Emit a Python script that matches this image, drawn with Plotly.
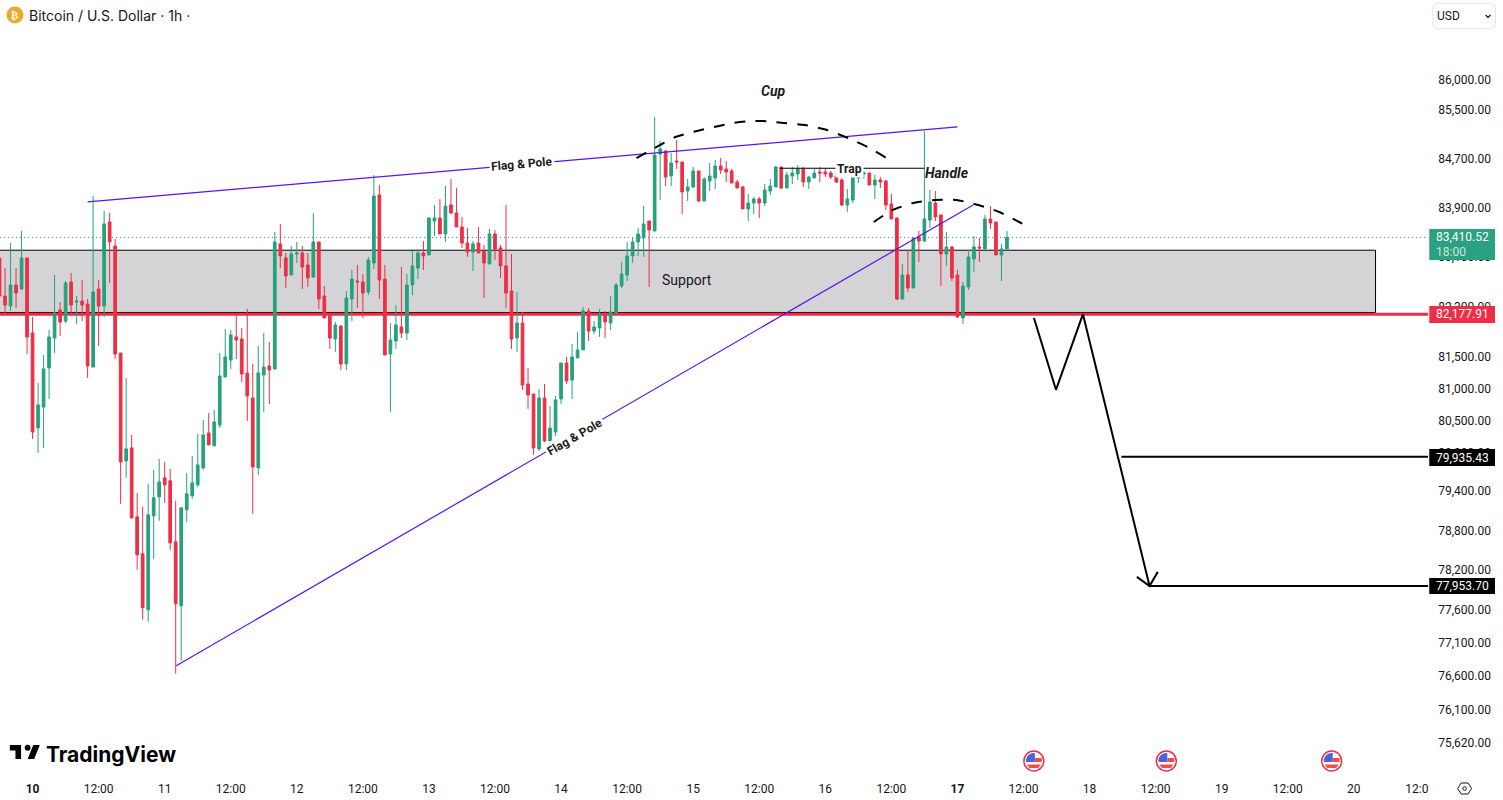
import pandas as pd
import numpy as np
import plotly.graph_objects as go

W, H = 1503, 800
START = pd.Timestamp("2025-03-10 00:00")

opens = [83080,82468,82308,82645,82581,83080,81878,80382,80710,81324,81799,82244,82069,82693,82372,82388,82340,81339,82581,82308,83662,83273,81561,79870,80071,79007,78442,77594,79022,79314,79607,79561,78624,77654,79115,79330,79499,79761,80304,80103,80429,81182,81450,81815,81783,81245,80851,79761,81213,81355,81308,83305,83080,82806,83144,83160,82967,82773,83338,82468,82181,81783,81990,81387,82420,82709,82693,82533,82999,84102,82741,81545,81751,81974,81878,82645,82918,83160,83128,83678,83727,83468,83939,83809,83581,83322,83176,83322,83192,82983,83468,83241,82951,82549,81799,82037,81071,80914,80056,80851,80180,80320,80836,81403,81134,81482,81609,82229,81910,81958,82165,82037,82197,82629,82806,83112,83338,83403,83678,83516,84774,84823,84413,84659,84642,84167,84233,84495,84004,84331,84380,84577,84527,84495,84314,84233,83874,83971,84036,83971,84167,84233,84560,84216,84413,84445,84527,84314,84380,84478,84478,84462,84413,84347,83939,84020,84380,84445,84462,84265,84347,84331,83955,83727,82420,82806,82597,83419,83354,83694,83971,83776,83144,83257,82806,82117,82613,83063,83257,83225,83711,83662,83128,83225]
highs = [83080,82918,83322,82918,83516,83080,82133,81087,81529,81926,82806,82372,82709,82838,82468,82725,82420,84086,82725,83841,83809,83386,81561,81166,80273,79376,79161,79515,79731,79901,79854,79746,79253,79145,79684,79947,80289,80507,80616,80663,81561,81942,81926,82165,81958,82260,81387,81672,81878,81735,83500,83630,83160,83273,83338,83273,83160,83809,83338,82629,82181,82053,82006,82549,82886,82967,82822,83096,84429,84265,82967,82037,82324,82934,82822,83192,83225,83354,83743,83939,84036,84249,84363,84216,83743,83565,83354,83581,83289,83549,83532,83289,83939,83144,82533,82213,81324,80914,80993,81071,80726,80883,81403,81498,81704,81894,82292,82276,82069,82260,82229,82468,82677,83015,83338,83419,83565,83922,83678,85386,84988,84840,84790,85005,84642,84363,84560,84495,84396,84626,84675,84708,84659,84527,84347,84249,84118,84069,84069,84282,84363,84577,84560,84478,84560,84593,84560,84413,84527,84560,84544,84495,84478,84380,84200,84429,84495,84495,84462,84429,84396,84347,84118,83743,82983,83209,83419,83516,85154,84184,84167,83776,83500,83273,82886,82693,83209,83435,83403,83776,83922,83662,83305,83516]
lows = [82468,82181,82229,82276,82565,81545,80211,79994,80071,80836,81561,81831,82037,82197,82022,82069,81166,81339,81672,82133,82677,81466,79206,79607,78976,78198,77443,77413,78365,78946,79222,78503,76637,76830,78930,79283,79468,79731,80118,80103,80382,81182,81308,81466,81102,80491,79053,79653,80632,80757,81292,82918,82597,82806,82999,82581,82613,82757,82260,82117,81625,81577,81292,81292,82069,82276,82117,82484,82902,82420,81529,80632,81625,81799,81767,82484,82741,82886,83128,83435,83468,83338,83792,83581,83241,83096,82870,83160,82436,82983,83047,82757,82276,81625,81577,80977,80679,79963,80025,80165,80165,80258,80757,81071,80836,81482,81609,81751,81862,81815,81799,81926,82197,82597,82709,82999,83112,83096,82613,83516,84020,84249,84249,84527,83792,84004,84216,83988,84004,84167,84200,84445,84314,84298,84216,83874,83678,83792,83727,83922,84102,84233,84200,84216,84282,84347,84233,84200,84380,84314,84396,84363,84298,83922,83825,83971,84298,84363,84265,84036,84216,83857,83711,82404,82420,82533,82597,83015,83338,83565,83678,82629,82951,82709,82117,82022,82565,82854,83015,83225,83549,83128,82709,83225]
closes = [82468,82324,82645,82516,83080,81815,80320,80742,81308,81815,82197,82053,82677,82324,82388,82324,81355,82533,82308,83630,83338,81545,79854,80056,78992,78426,77624,79038,79299,79545,79499,78609,77684,79145,79360,79530,79808,80273,80118,80476,81197,81498,81847,81767,81229,80883,79777,81245,81339,81292,83338,83112,82789,83144,83160,82934,82757,83338,82420,82117,81799,82006,81387,82436,82741,82693,82516,83047,84086,82725,81529,81767,82006,81878,82645,82951,83160,83112,83727,83727,83468,83922,83809,83581,83322,83176,83305,83160,82999,83468,83225,82951,82516,81783,82037,81055,80899,80071,80851,80180,80382,80820,81403,81118,81498,81609,82229,81910,81974,82181,82053,82213,82645,82822,83112,83338,83468,83630,83532,84757,84856,84396,84626,84642,84151,84233,84495,84004,84363,84413,84577,84511,84478,84298,84216,83874,83971,84036,83971,84184,84249,84560,84216,84429,84462,84527,84314,84396,84462,84462,84445,84396,84314,83939,84036,84396,84445,84462,84265,84347,84314,83939,83711,82420,82806,82597,83403,83354,83711,83988,83743,83144,83257,82757,82133,82629,83096,83257,83241,83711,83646,83128,83225,83410.52]

first_candle_hour = -6
price_ticks = [86000,85500,84700,83900,83100,82300,81500,81000,80500,80000,79400,78800,78200,77600,77100,76600,76100,75620]
day_hours = list(range(0, 253, 12))
day_labels = ["<b>10</b>","12:00","11","12:00","12","12:00","13","12:00","14","12:00","15","12:00","16","12:00",
              "<b>17</b>","12:00","18","12:00","19","12:00","20","12:0\u00a0\u00a0"]

# drawings: hours after 10 March 00:00, and prices
flag_top_hours = [10.0, 168.0];      flag_top_prices = [83988, 85220]
flag_rise_hours = [26.1, 170.85];    flag_rise_prices = [76756, 83939]
cup_hours = [109.7,113,116.8,120.7,124.7,128.5,132.5,136.5,140.3,144.3,148.1,151.7,155.1,156.2]
cup_prices = [84708,84873,85055,85154,85237,85303,85319,85286,85253,85170,85038,84889,84708,84642]
handle_hours = [152.8,156.2,160,164,167.8,171.8,175.6,179.2,181]
handle_prices = [83662,83857,83971,84020,84020,83939,83825,83662,83581]
trap_hours = [135.7, 162.0];         trap_prices = [84540, 84540]
path_hours = [181.9,185.9,190.8,202.9];  path_prices = [82117,80980,82178,77953.7]
arrow_hours = [200.6,202.9,204.4];   arrow_prices = [78091,77953.7,78167]
last_price = 83410.52
support_price = 82177.91
target_one = 79935.43
target_two = 77953.70
zone_low, zone_high = 82205, 83205
zone_end_hour = 243.95


def when(hours):
    return START + pd.to_timedelta(hours, unit="h")

def whens(hours):
    return [when(h) for h in hours]

X_MIN, X_MAX = -5.916, 253.53
right_edge = when(X_MAX)
left_edge = when(X_MIN)
times = [when(first_candle_hour + i) for i in range(len(closes))]

GREEN, RED = "#26a17b", "#ee2e47"
PURPLE = "#5a12ee"
INK = "#131722"
FONT = "Roboto, sans-serif"

# paper helpers
def px(x): return x / W
def py(y): return 1 - y / H
def poly(pts, close=True):
    s = "M " + " L ".join(f"{px(a):.5f} {py(b):.5f}" for a, b in pts)
    return s + (" Z" if close else "")

fig = go.Figure()
fig.add_trace(go.Candlestick(
    x=times, open=opens, high=highs, low=lows, close=closes, whiskerwidth=0,
    increasing=dict(line=dict(color=GREEN, width=1), fillcolor=GREEN),
    decreasing=dict(line=dict(color=RED, width=1), fillcolor=RED),
    hoverinfo="skip", showlegend=False))

def line(hours, prices, color="black", width=2, dash=None, shape="linear"):
    fig.add_trace(go.Scatter(x=whens(hours), y=prices, mode="lines", hoverinfo="skip", showlegend=False,
                             line=dict(color=color, width=width, dash=dash, shape=shape, smoothing=0.6)))

line(flag_top_hours, flag_top_prices, PURPLE, 1.2)
line(flag_rise_hours, flag_rise_prices, PURPLE, 1.2)
line(cup_hours, cup_prices, "black", 2, "11px,10px", "spline")
line(handle_hours, handle_prices, "black", 2, "11px,10px", "spline")
line(trap_hours, trap_prices, "black", 1.2)
line(path_hours, path_prices, "black", 2)
line(arrow_hours, arrow_prices, "black", 2)
line([197.8, X_MAX], [target_one, target_one], "black", 2)
line([202.9, X_MAX], [target_two, target_two], "black", 2)

shapes = [
    dict(type="rect", xref="x", yref="y", x0=left_edge - pd.Timedelta(hours=6), x1=when(zone_end_hour),
         y0=zone_low, y1=zone_high, fillcolor="#d4d4d6", line=dict(color="black", width=1), layer="below"),
    dict(type="line", xref="x", yref="y", x0=left_edge, x1=right_edge, y0=support_price, y1=support_price,
         line=dict(color=RED, width=3), layer="below"),
    dict(type="line", xref="x", yref="y", x0=left_edge, x1=right_edge, y0=last_price, y1=last_price,
         line=dict(color=GREEN, width=1, dash="1px,3px"), layer="below"),
]

def box(x0, y0, x1, y1, color):
    shapes.append(dict(type="rect", xref="paper", yref="paper", x0=px(x0), x1=px(x1), y0=py(y1), y1=py(y0),
                       fillcolor=color, line=dict(width=0), layer="above"))

box(1435, 229, 1501, 260, "#2aa180")
box(1435, 306, 1501, 323, RED)
box(1435, 449, 1501, 466, "black")
box(1435, 578, 1501, 594, "black")

def circle(cx, cy, r, fill, lc=None, lw=0):
    shapes.append(dict(type="circle", xref="paper", yref="paper", x0=px(cx - r), x1=px(cx + r), y0=py(cy + r), y1=py(cy - r),
                       fillcolor=fill, line=dict(color=lc or fill, width=lw), layer="above"))

def path(p, fill=None, lc=None, lw=0):
    shapes.append(dict(type="path", xref="paper", yref="paper", path=p, fillcolor=fill or "rgba(0,0,0,0)",
                       line=dict(color=lc or "rgba(0,0,0,0)", width=lw), layer="above"))

# bitcoin badge
circle(15, 15, 8.5, "#f3a62c")

# USD selector
path(poly([(1442, 3.5), (1498, 3.5), (1501.5, 7), (1501.5, 25), (1498, 28.5), (1442, 28.5), (1438.5, 25), (1438.5, 7)]), None, "#e3e5ea", 1)
path(poly([(1491.5, 15), (1494, 17.5), (1496.5, 15)], close=False), None, "#131722", 1.2)

# economic-event flags
for cx in (1038, 1171, 1337):
    cy = 761
    circle(cx, cy, 10, "white", RED, 1.5)
    blue = [(cx + 8 * np.cos(a), cy + 8 * np.sin(a)) for a in np.linspace(np.pi, 1.5 * np.pi, 8)] + [(cx + 1, cy - 8), (cx + 1, cy + 1), (cx - 8, cy + 1)]
    path(poly(blue), "#4a62e0")
    path(poly([(cx + 1, cy - 3), (cx + 8, cy - 3), (cx + 8, cy + 1), (cx + 1, cy + 1)]), "#e8504f")
    path(poly([(cx - 7, cy + 3.5), (cx + 7, cy + 3.5), (cx + 4.5, cy + 7), (cx - 4.5, cy + 7)]), "#e8504f")

# TradingView mark
def lg(u, v): return (8 + u * 0.94, 739.4 + v * 0.93)
path(poly([lg(2, 6), lg(14, 6), lg(14, 21), lg(8, 21), lg(8, 12), lg(2, 12)]), "black")
path(poly([lg(28, 21), lg(21, 21), lg(27, 6), lg(34, 6)]), "black")
circle(lg(21, 9)[0], lg(21, 9)[1], 2.9, "black")

# settings hexagon
path(poly([(1463.5, 788.5), (1467, 783), (1474, 783), (1477.5, 788.5), (1474, 794), (1467, 794)]), None, "#131722", 1)
circle(1470.5, 788.5, 1.8, "white", "#131722", 1)

ann = []
def note_px(x, y, text, size=12, color=INK, anchor="center", family=FONT):
    ann.append(dict(xref="paper", yref="paper", x=px(x), y=py(y), text=text, showarrow=False, xanchor=anchor, yanchor="middle",
                    font=dict(size=size, color=color, family=family), borderpad=0))

def note_data(hour, price, text, size=12, angle=0, bg=None, color=INK):
    ann.append(dict(xref="x", yref="y", x=when(hour), y=np.log10(price), text=text, showarrow=False, textangle=angle,
                    xanchor="center", yanchor="middle", font=dict(size=size, color=color, family=FONT),
                    bgcolor=bg, borderpad=1))

note_data(88.9, 84609, "<b>Flag &amp; Pole</b>", 12, -4.9, "white", "#1b1b1b")
note_data(98.5, 80242, "<b>Flag &amp; Pole</b>", 12, -30, "white", "#1b1b1b")
note_data(134.5, 85817, "<b><i>Cup</i></b>", 14, color="#1b1b1b")
note_data(166.1, 84462, "<b><i>Handle</i></b>", 14, color="#1b1b1b")
note_data(148.4, 84527, "<b>Trap</b>", 12, 0, "white", "#1b1b1b")
note_data(118.9, 82725, "Support", 14)

note_px(28, 15, "Bitcoin / U.S. Dollar · 1h ·", 14, INK, "left", "Inter, sans-serif")
note_px(15, 15, "<b>₿</b>", 11, "white", "center", "DejaVu Sans")
note_px(1442, 16, "USD", 12, INK, "left")
note_px(1468, 237, f"{last_price:,.2f}", 12, "white")
note_px(1457, 252, "18:00", 12, "rgba(255,255,255,0.75)")
note_px(1468, 314.5, f"{support_price:,.2f}", 12, "white")
note_px(1468, 457.5, f"{target_one:,.2f}", 12, "white")
note_px(1468, 586, f"{target_two:,.2f}", 12, "white")
note_px(45, 754, "<b>TradingView</b>", 21, "black", "left", "Inter, sans-serif")

top_log = np.log10(last_price) + (237.5 / 5150) / np.log(10)
bottom_log = np.log10(last_price) - (537.5 / 5150) / np.log(10)

fig.update_layout(
    width=W, height=H, margin=dict(l=0, r=0, t=0, b=0),
    paper_bgcolor="white", plot_bgcolor="white", showlegend=False,
    shapes=shapes, annotations=ann, font=dict(family=FONT, color=INK, size=12),
    xaxis=dict(type="date", domain=[0, 1434 / W], range=[left_edge, right_edge], rangeslider=dict(visible=False),
               showgrid=False, zeroline=False, showline=False, ticks="", tickmode="array",
               tickvals=whens(day_hours), ticktext=day_labels, tickangle=0, ticklabelstandoff=5,
               tickfont=dict(size=12, color=INK, family=FONT), anchor="y"),
    yaxis=dict(type="log", domain=[25 / H, 1], range=[bottom_log, top_log], side="right", anchor="x",
               showgrid=False, zeroline=False, showline=False, ticks="", tickmode="array",
               tickvals=price_ticks, ticktext=[f"{v:,.2f}" for v in price_ticks], ticklabelstandoff=9,
               tickfont=dict(size=12, color=INK, family=FONT)),
)

fig.write_html("out.html", config={"displayModeBar": False},
               post_script="document.body.style.margin='0';document.body.style.overflow='hidden';")
